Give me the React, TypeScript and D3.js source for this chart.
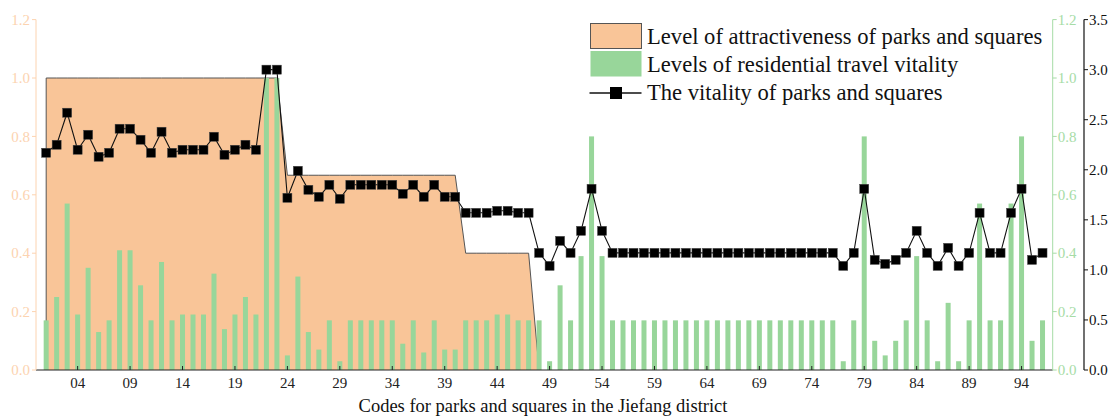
import React from "react";
import * as d3 from "d3";

const codes: string[] = Array.from({ length: 96 }, (_, i) => String(i + 1).padStart(2, "0"));

// Level of attractiveness of parks and squares (left axis, 0-1.2)
const attractiveness: number[] = [
  1, 1, 1, 1, 1, 1, 1, 1, 1, 1,
  1, 1, 1, 1, 1, 1, 1, 1, 1, 1,
  1, 1, 1, 0.667, 0.667, 0.667, 0.667, 0.667, 0.667, 0.667,
  0.667, 0.667, 0.667, 0.667, 0.667, 0.667, 0.667, 0.667, 0.667, 0.667,
  0.4, 0.4, 0.4, 0.4, 0.4, 0.4, 0.4, 0,
];

// Levels of residential travel vitality (green right axis, 0-1.2)
const travelVitality: number[] = [
  0.17, 0.25, 0.57, 0.19, 0.35, 0.13, 0.17, 0.41, 0.41, 0.29,
  0.17, 0.37, 0.17, 0.19, 0.19, 0.19, 0.33, 0.14, 0.19, 0.25,
  0.19, 1.0, 1.0, 0.05, 0.32, 0.13, 0.07, 0.17, 0.03, 0.17,
  0.17, 0.17, 0.17, 0.17, 0.09, 0.17, 0.06, 0.17, 0.07, 0.07,
  0.17, 0.17, 0.17, 0.19, 0.19, 0.17, 0.17, 0.17, 0.03, 0.29,
  0.17, 0.39, 0.8, 0.39, 0.17, 0.17, 0.17, 0.17, 0.17, 0.17,
  0.17, 0.17, 0.17, 0.17, 0.17, 0.17, 0.17, 0.17, 0.17, 0.17,
  0.17, 0.17, 0.17, 0.17, 0.17, 0.17, 0.03, 0.17, 0.8, 0.1,
  0.05, 0.1, 0.17, 0.39, 0.17, 0.03, 0.23, 0.03, 0.17, 0.57,
  0.17, 0.17, 0.57, 0.8, 0.1, 0.17,
];

// The vitality of parks and squares (black right axis, 0-3.5)
const parkVitality: number[] = [
  2.17, 2.25, 2.57, 2.2, 2.35, 2.13, 2.17, 2.41, 2.41, 2.3,
  2.17, 2.38, 2.17, 2.2, 2.2, 2.2, 2.33, 2.15, 2.2, 2.25,
  2.2, 3.0, 3.0, 1.72, 1.99, 1.8, 1.73, 1.85, 1.71, 1.85,
  1.85, 1.85, 1.85, 1.85, 1.76, 1.85, 1.73, 1.85, 1.73, 1.73,
  1.57, 1.57, 1.57, 1.59, 1.59, 1.57, 1.57, 1.17, 1.04, 1.29,
  1.17, 1.39, 1.81, 1.39, 1.17, 1.17, 1.17, 1.17, 1.17, 1.17,
  1.17, 1.17, 1.17, 1.17, 1.17, 1.17, 1.17, 1.17, 1.17, 1.17,
  1.17, 1.17, 1.17, 1.17, 1.17, 1.17, 1.04, 1.17, 1.81, 1.1,
  1.06, 1.1, 1.17, 1.39, 1.17, 1.04, 1.22, 1.04, 1.17, 1.57,
  1.17, 1.17, 1.57, 1.81, 1.1, 1.17,
];

const xTickLabels: string[] = ["04", "09", "14", "19", "24", "29", "34", "39", "44", "49", "54", "59", "64", "69", "74", "79", "84", "89", "94"];
const leftTicks: number[] = [0, 0.2, 0.4, 0.6, 0.8, 1.0, 1.2];
const greenTicks: number[] = [0, 0.2, 0.4, 0.6, 0.8, 1.0, 1.2];
const blackTicks: number[] = [0, 0.5, 1.0, 1.5, 2.0, 2.5, 3.0, 3.5];

const legendLabels: string[] = [
  "Level of attractiveness of parks and squares",
  "Levels of residential travel vitality",
  "The vitality of parks and squares",
];
const xTitle = "Codes for parks and squares in the Jiefang district";

const ORANGE = "#f9c598";
const ORANGE_TEXT = "#fcd3b0";
const GREEN = "#98d69a";
const GREEN_TEXT = "#a6dca6";
const FONT = "'Liberation Serif', 'Times New Roman', serif";

export default function App() {
  const W = 1113;
  const H = 419;
  const x0 = 36;
  const xG = 1052.7;
  const xB = 1084;
  const yBottom = 370;
  const yTop = 19.6;

  const x = d3.scalePoint<string>().domain(codes).range([x0, xG]).padding(0.97);
  const yL = d3.scaleLinear().domain([0, 1.2]).range([yBottom, yTop]);
  const yG = d3.scaleLinear().domain([0, 1.2]).range([yBottom, yTop]);
  const yB = d3.scaleLinear().domain([0, 3.5]).range([yBottom, yTop]);

  const areaData = attractiveness.map((v, i) => ({ c: codes[i], v }));
  const areaGen = d3
    .area<{ c: string; v: number }>()
    .x((d) => x(d.c) as number)
    .y0(yL(0))
    .y1((d) => yL(d.v));
  const areaTop = d3
    .line<{ c: string; v: number }>()
    .x((d) => x(d.c) as number)
    .y((d) => yL(d.v));
  const firstX = x(codes[0]) as number;
  const topOutline =
    `M${firstX},${yL(0)}L` + (areaTop(areaData) as string).slice(1);

  const lineGen = d3
    .line<number>()
    .x((_, i) => x(codes[i]) as number)
    .y((d) => yB(d));

  const barW = 5;
  const mk = 9;

  const legX = 590.5;
  const legW = 51;
  const textX = 647;

  return (
    <svg width={W} height={H} style={{ position: "absolute", left: 0, top: 0, fontFamily: FONT }}>
      <rect x={0} y={0} width={W} height={H} fill="#fff" />
      {/* attractiveness area */}
      <path d={areaGen(areaData) as string} fill={ORANGE} stroke="none" />
      <path d={topOutline} fill="none" stroke="#555" strokeWidth={1} />
      {/* travel vitality bars */}
      {travelVitality.map((v, i) => (
        <rect
          key={i}
          x={(x(codes[i]) as number) - barW / 2}
          y={yG(v)}
          width={barW}
          height={yG(0) - yG(v)}
          fill={GREEN}
        />
      ))}
      {/* vitality line */}
      <path d={lineGen(parkVitality) as string} fill="none" stroke="#111" strokeWidth={1.1} />
      {parkVitality.map((v, i) => (
        <rect
          key={i}
          x={(x(codes[i]) as number) - mk / 2}
          y={yB(v) - mk / 2}
          width={mk}
          height={mk}
          fill="#000"
          stroke="#444"
          strokeWidth={0.5}
        />
      ))}

      {/* x axis */}
      <line x1={x0} x2={xG} y1={yBottom} y2={yBottom} stroke="#222" strokeWidth={1.2} />
      {xTickLabels.map((t) => (
        <g key={t} transform={`translate(${x(t)},${yBottom})`}>
          <line y1={0} y2={-4} stroke="#222" />
          <text y={18} textAnchor="middle" fontSize={15} fill="#222">
            {t}
          </text>
        </g>
      ))}
      <text x={543} y={412} textAnchor="middle" fontSize={18.5} fill="#111">
        {xTitle}
      </text>

      {/* left axis */}
      <line x1={x0} x2={x0} y1={yBottom} y2={yTop} stroke={ORANGE_TEXT} strokeWidth={1} />
      {leftTicks.map((t) => (
        <g key={t} transform={`translate(${x0},${yL(t)})`}>
          <line x1={0} x2={-4} stroke={ORANGE_TEXT} />
          <text x={-6} dy="0.35em" textAnchor="end" fontSize={15} fill={ORANGE_TEXT}>
            {t.toFixed(1)}
          </text>
        </g>
      ))}

      {/* green right axis */}
      <line x1={xG} x2={xG} y1={yBottom} y2={yTop} stroke={GREEN_TEXT} strokeWidth={1} />
      {greenTicks.map((t) => (
        <g key={t} transform={`translate(${xG},${yG(t)})`}>
          <line x1={0} x2={4} stroke={GREEN_TEXT} />
          <text x={5} dy="0.35em" textAnchor="start" fontSize={15} fill={GREEN_TEXT}>
            {t.toFixed(1)}
          </text>
        </g>
      ))}

      {/* black right axis */}
      <line x1={xB} x2={xB} y1={yBottom} y2={yTop} stroke="#111" strokeWidth={1.2} />
      {blackTicks.map((t) => (
        <g key={t} transform={`translate(${xB},${yB(t)})`}>
          <line x1={0} x2={4} stroke="#111" />
          <text x={5} dy="0.35em" textAnchor="start" fontSize={15} fill="#111">
            {t.toFixed(1)}
          </text>
        </g>
      ))}

      {/* legend */}
      <rect x={legX} y={23.5} width={legW} height={25} fill={ORANGE} stroke="#555" strokeWidth={1} />
      <rect x={legX} y={51} width={legW} height={25.5} fill={GREEN} />
      <line x1={legX - 1} x2={legX + legW} y1={93} y2={93} stroke="#111" strokeWidth={1.3} />
      <rect x={legX + legW / 2 - 6} y={87} width={12} height={12} fill="#000" />
      {legendLabels.map((l, i) => (
        <text key={l} x={textX} y={44} dy={i * 28} fontSize={22.6} fill="#111">
          {l}
        </text>
      ))}
    </svg>
  );
}
